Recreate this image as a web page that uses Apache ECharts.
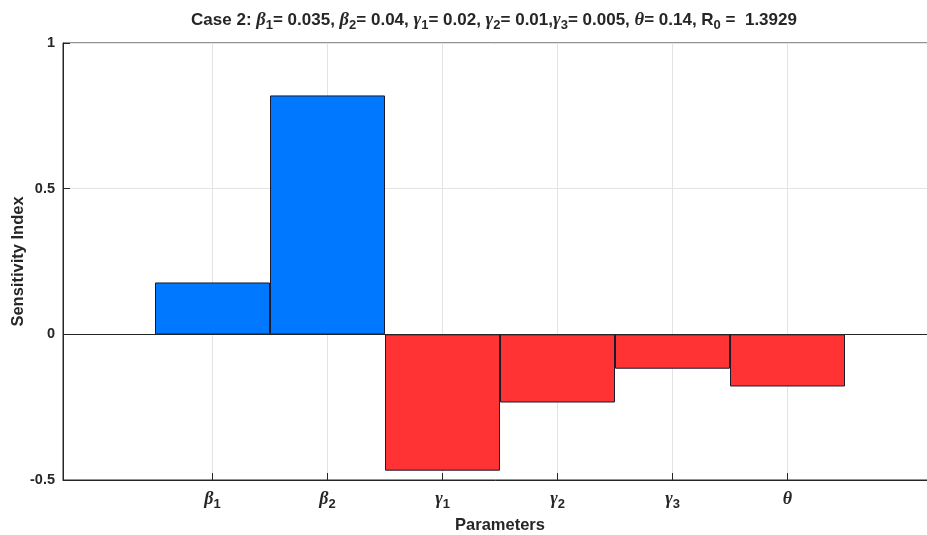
<!DOCTYPE html>
<html>
<head>
<meta charset="utf-8">
<script src="https://cdn.jsdelivr.net/npm/echarts@6/dist/echarts.min.js"></script>
<style>html,body{margin:0;padding:0;background:#fff}#c{width:927px;height:535px}</style>
</head>
<body>
<div id="c"></div>
<script>
var categoryGreek = ['β', 'β', 'γ', 'γ', 'γ', 'θ'];
var categorySub = ['1', '2', '1', '2', '3', ''];
var sensitivity = [0.178, 0.820, -0.468, -0.234, -0.118, -0.179];
var yTicks = [-0.5, 0, 0.5, 1];
var yTickLabels = ['-0.5', '0', '0.5', '1'];

var positions = sensitivity.map(function (v, i) { return i; });
var barData = sensitivity.map(function (v, i) {
  return { value: [i, v], itemStyle: { color: v >= 0 ? '#0078FF' : '#FF3333' } };
});

var sans = '"Liberation Sans", Arial, sans-serif';
var serif = '"Liberation Serif", "DejaVu Serif", serif';
var dark = '#262626';

var chart = echarts.init(document.getElementById('c'));
chart.setOption({
  animation: false,
  title: {
    text: '{n|Case 2: }{g|β}{s|1}{n|= 0.035, }{g|β}{s|2}{n|= 0.04, }{g|γ}{s|1}{n|= 0.02, }{g|γ}{s|2}{n|= 0.01,}{g|γ}{s|3}{n|= 0.005, }{g|θ}{n|= 0.14, R}{s|0}{n| =  1.3929}',
    left: 489, top: 4, textAlign: 'center',
    textStyle: {
      rich: {
        n: { fontFamily: sans, fontWeight: 'bold', fontSize: 17, color: dark, lineHeight: 22 },
        g: { fontFamily: serif, fontStyle: 'italic', fontSize: 18.5, color: dark, lineHeight: 22 },
        s: { fontFamily: sans, fontWeight: 'bold', fontSize: 13, color: dark, padding: [10, 0, 0, 0], lineHeight: 22 }
      }
    }
  },
  grid: { left: 63, top: 43, width: 874, height: 437, show: true, borderColor: dark, borderWidth: 1, backgroundColor: 'transparent', outerBoundsMode: 'none', containLabel: false },
  xAxis: {
    type: 'value', min: -1.3, max: 6.3,
    name: 'Parameters', nameLocation: 'middle', nameGap: 37, nameMoveOverlap: false,
    nameTextStyle: { fontFamily: sans, fontWeight: 'bold', fontSize: 16.5, color: dark },
    axisLine: { show: true, onZero: false, lineStyle: { color: dark, width: 1 } },
    axisTick: { show: true, inside: true, length: 7, customValues: positions, lineStyle: { color: dark } },
    splitLine: { show: true, lineStyle: { color: '#e3e3e3', width: 1 } },
    axisLabel: {
      customValues: positions, margin: 8,
      formatter: function (v) {
        var i = Math.round(v);
        if (i < 0 || i >= categoryGreek.length) return '';
        return '{g|' + categoryGreek[i] + '}' + (categorySub[i] ? '{s|' + categorySub[i] + '}' : '');
      },
      rich: {
        g: { fontFamily: serif, fontStyle: 'italic', fontWeight: 'bold', fontSize: 18, color: dark, lineHeight: 22 },
        s: { fontFamily: sans, fontWeight: 'bold', fontSize: 13, color: dark, padding: [11, 0, 0, 0], lineHeight: 22 }
      }
    }
  },
  yAxis: {
    type: 'value', min: -0.5, max: 1, interval: 0.5,
    name: 'Sensitivity Index', nameLocation: 'middle', nameGap: 36, nameRotate: 90, nameMoveOverlap: false,
    nameTextStyle: { fontFamily: sans, fontWeight: 'bold', fontSize: 16.5, color: dark },
    axisLine: { show: true, onZero: false, lineStyle: { color: dark, width: 1 } },
    axisTick: { show: true, inside: true, length: 7, lineStyle: { color: dark } },
    splitLine: { show: true, lineStyle: { color: '#e3e3e3', width: 1 } },
    axisLabel: {
      fontFamily: sans, fontWeight: 'bold', fontSize: 14.5, color: dark, margin: 8,
      formatter: function (v) {
        var k = yTicks.indexOf(Math.round(v * 100) / 100);
        return k >= 0 ? yTickLabels[k] : '';
      }
    }
  },
  series: [{
    type: 'bar',
    data: barData,
    barWidth: 115,
    itemStyle: { borderColor: '#1a1a2e', borderWidth: 1 },
    markLine: {
      silent: true, symbol: 'none', label: { show: false },
      lineStyle: { color: dark, width: 1, type: 'solid' },
      data: [{ yAxis: 0 }]
    }
  }]
});
</script>
</body>
</html>
